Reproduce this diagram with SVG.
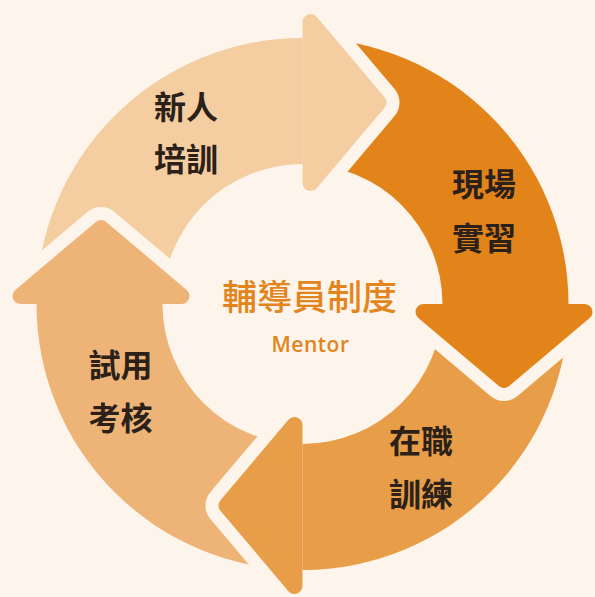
<svg xmlns="http://www.w3.org/2000/svg" width="595" height="597" viewBox="0 0 595 597">
<defs>
<style>
.lbl{font-family:"Noto Sans CJK TC","Noto Sans CJK SC",sans-serif;font-size:32px;font-weight:700;fill:#2B2119;text-anchor:middle}
.ttl{font-family:"Noto Sans CJK TC","Noto Sans CJK SC",sans-serif;font-size:35px;font-weight:500;fill:#E3841C;text-anchor:middle}
.sub{font-family:"Open Sans","Liberation Sans",sans-serif;font-size:21px;font-weight:600;letter-spacing:0.5px;fill:#E3841C;text-anchor:middle}
.head{stroke-width:16;stroke-linejoin:round}
</style>
<path id="shaft" d="M0,-266 A266,266 0 0 1 266,0 L140,0 A140,140 0 0 0 0,-140 Z"/>
<polygon id="head" points="282,8 121,8 201.5,76"/>
<mask id="notch" maskUnits="userSpaceOnUse" x="-320" y="-320" width="640" height="640">
<rect x="-320" y="-320" width="640" height="640" fill="#fff"/>
<polygon points="8,-282 8,-121 76,-201.5" fill="#000" stroke="#000" stroke-width="42" stroke-linejoin="round"/>
</mask>
</defs>
<rect width="595" height="597" fill="#FDF5EB"/>
<g id="node-training">
<g transform="translate(302.5,304) rotate(-90)" fill="#F4CDA0" stroke="#F4CDA0">
<use href="#shaft" mask="url(#notch)" stroke="none"/>
<use href="#head" class="head"/>
</g>
<text class="lbl" x="186" y="119">新人</text>
<text class="lbl" x="186" y="171">培訓</text>
</g>
<g id="node-practice">
<g transform="translate(302.5,304)" fill="#E3841B" stroke="#E3841B">
<use href="#shaft" mask="url(#notch)" stroke="none"/>
<use href="#head" class="head"/>
</g>
<text class="lbl" x="484" y="196">現場</text>
<text class="lbl" x="484" y="250">實習</text>
</g>
<g id="node-onjob">
<g transform="translate(302.5,304) rotate(90)" fill="#E89D48" stroke="#E89D48">
<use href="#shaft" mask="url(#notch)" stroke="none"/>
<use href="#head" class="head"/>
</g>
<text class="lbl" x="421" y="453">在職</text>
<text class="lbl" x="421" y="506">訓練</text>
</g>
<g id="node-probation">
<g transform="translate(302.5,304) rotate(180)" fill="#EEB477" stroke="#EEB477">
<use href="#shaft" mask="url(#notch)" stroke="none"/>
<use href="#head" class="head"/>
</g>
<text class="lbl" x="120.5" y="377">試用</text>
<text class="lbl" x="120.5" y="430">考核</text>
</g>
<g id="center">
<text class="ttl" x="309.5" y="310">輔導員制度</text>
<text class="sub" x="310.5" y="352">Mentor</text>
</g>
</svg>
